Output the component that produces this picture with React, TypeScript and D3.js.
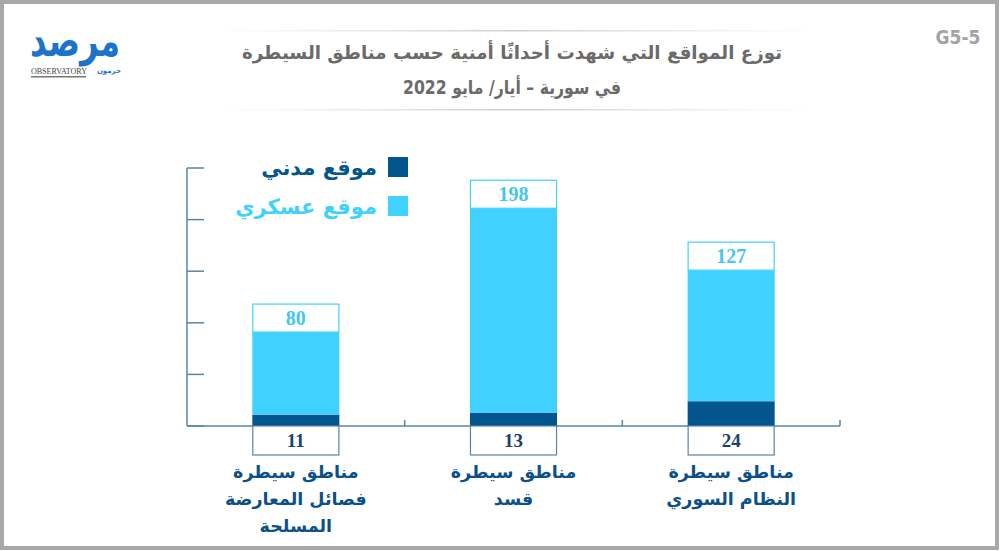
import React from 'react';
import * as d3 from 'd3';

const categories = [
  ['مناطق سيطرة', 'فصائل المعارضة', 'المسلحة'],
  ['مناطق سيطرة', 'قسد'],
  ['مناطق سيطرة', 'النظام السوري'],
];
const civilian = [11, 13, 24];
const military = [80, 198, 127];
const yTicks = [0, 50, 100, 150, 200, 250];

const DARK = '#03568d';
const LIGHT = '#40d1ff';
const AXIS = '#5b84a6';
const AR = '"DejaVu Sans", sans-serif';
const NUM = '"Liberation Serif", "DejaVu Serif", serif';

const W = 1001;
const H = 551;

const App: React.FC = () => {
  const x = d3.scaleBand<number>().domain([0, 1, 2]).range([187, 840]).padding(0);
  const y = d3.scaleLinear().domain([0, 250]).range([426, 168]);
  const barW = x.bandwidth() * 0.4;

  return (
    <svg width={W} height={H} style={{ position: 'absolute', left: 0, top: 0 }}>
      <defs>
        <linearGradient id="fade" x1="0" x2="1" y1="0" y2="0">
          <stop offset="0" stopColor="#d6d6d6" stopOpacity={0} />
          <stop offset="0.5" stopColor="#cfcfcf" stopOpacity={1} />
          <stop offset="1" stopColor="#d6d6d6" stopOpacity={0} />
        </linearGradient>
      </defs>
      <rect x={0} y={0} width={W} height={H} fill="#fff" />
      {/* frame */}
      <rect x={2} y={2} width={W - 6} height={H - 5} fill="none" stroke="#a8a8a8" strokeWidth={4} />

      {/* logo */}
      <g>
        <text x={75} y={56} textAnchor="middle" fontFamily={AR} fontWeight="bold" fontSize={44}
          fill="#1b74c9" textLength={90} lengthAdjust="spacingAndGlyphs">مرصد</text>
        <text x={31} y={74} fontFamily={NUM} fontSize={7.5} fill="#444" textLength={56} lengthAdjust="spacingAndGlyphs">OBSERVATORY</text>
        <text x={121} y={73} textAnchor="end" fontFamily={AR} fontSize={7} fontWeight="bold" fill="#1b74c9">حرمون</text>
        <rect x={31} y={76} width={55} height={1.5} fill="#777" />
      </g>

      <text x={958} y={44} textAnchor="middle" fontFamily='"DejaVu Sans Condensed", "DejaVu Sans", sans-serif'
        fontWeight="bold" fontSize={19} fill="#a3a3a3" style={{ fontStretch: 'condensed' }}>G5-5</text>

      {/* title */}
      <rect x={215} y={30} width={600} height={1.5} fill="url(#fade)" />
      <rect x={215} y={109} width={600} height={1.5} fill="url(#fade)" />
      <text x={512} y={59} textAnchor="middle" direction="rtl" fontFamily={AR} fontWeight="bold" fontSize={19} fill="#6b6b6b"
        textLength={540} lengthAdjust="spacingAndGlyphs">
        توزع المواقع التي شهدت أحداثًا أمنية حسب مناطق السيطرة
      </text>
      <text x={512} y={94} textAnchor="middle" direction="rtl" fontFamily={AR} fontWeight="bold" fontSize={19} fill="#6b6b6b"
        textLength={218} lengthAdjust="spacingAndGlyphs">
        في سورية – أيار/ مايو 2022
      </text>

      {/* axis */}
      <line x1={187} x2={187} y1={y(250)} y2={y(0)} stroke={AXIS} strokeWidth={1.5} />
      {yTicks.map(t => (
        <line key={t} x1={187} x2={204} y1={y(t)} y2={y(t)} stroke={AXIS} strokeWidth={1.5} />
      ))}
      <line x1={187} x2={840} y1={y(0)} y2={y(0)} stroke={AXIS} strokeWidth={1.5} />
      {[1, 2, 3].map(i => {
        const xx = 187 + x.step() * i;
        return <line key={i} x1={xx} x2={xx} y1={y(0) - 6} y2={y(0)} stroke={AXIS} strokeWidth={1.5} />;
      })}

      {/* bars */}
      {categories.map((lines, i) => {
        const cx = (x(i) as number) + x.bandwidth() / 2;
        const x0 = cx - barW / 2;
        const total = civilian[i] + military[i];
        return (
          <g key={i}>
            <rect x={x0} y={y(civilian[i])} width={barW} height={y(0) - y(civilian[i])} fill={DARK} />
            <rect x={x0} y={y(total)} width={barW} height={y(civilian[i]) - y(total)} fill={LIGHT} />
            <rect x={x0 + 0.5} y={y(total) - 28} width={barW - 1} height={28} fill="#fff" stroke={LIGHT} strokeWidth={1.2} />
            <text x={cx} y={y(total) - 7} textAnchor="middle" fontFamily={NUM} fontWeight="bold" fontSize={20} fill="#45c6ef">
              {military[i]}
            </text>
            <rect x={x0 + 0.5} y={y(0)} width={barW - 1} height={29} fill="#fff" stroke={AXIS} strokeWidth={1.2} />
            <text x={cx} y={y(0) + 21} textAnchor="middle" fontFamily={NUM} fontWeight="bold" fontSize={19} fill="#1c416b">
              {civilian[i]}
            </text>
            {lines.map((l, j) => (
              <text key={j} x={cx} y={478 + j * 27} textAnchor="middle" direction="rtl" fontFamily={AR}
                fontWeight="bold" fontSize={17.5} fill="#0c5088">{l}</text>
            ))}
          </g>
        );
      })}

      {/* legend */}
      <rect x={388} y={157} width={20} height={20} fill={DARK} />
      <text x={377} y={175} textAnchor="start" direction="rtl" fontFamily={AR} fontWeight="bold" fontSize={21} fill={DARK}>موقع مدني</text>
      <rect x={388} y={196} width={20} height={20} fill={LIGHT} />
      <text x={377} y={214} textAnchor="start" direction="rtl" fontFamily={AR} fontWeight="bold" fontSize={21} fill={LIGHT}>موقع عسكري</text>
    </svg>
  );
};

export default App;
